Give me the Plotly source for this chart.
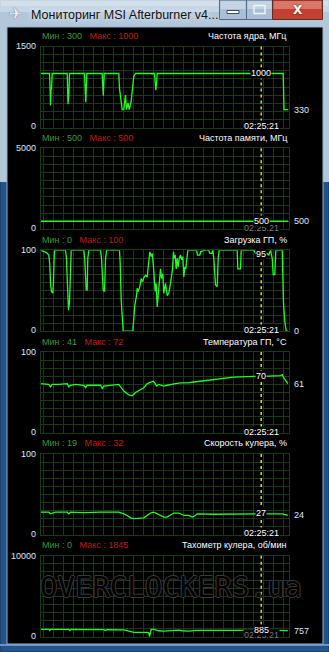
import plotly.graph_objects as go

W, H = 329, 652

# ---------------- data ----------------
titles = ["Частота ядра, МГц", "Частота памяти, МГц", "Загрузка ГП, %",
          "Температура ГП, °C", "Скорость кулера, %", "Тахометр кулера, об/мин"]
y_max = [1500, 5000, 100, 100, 100, 10000]
min_vals = [300, 500, 0, 41, 19, 0]
max_vals = [1000, 500, 100, 72, 32, 1845]
cursor_vals = [1000, 500, 95, 70, 27, 885]
last_vals = [330, 500, 0, 61, 24, 757]
cursor_time = "02:25:21"
cursor_t = 220.7
window_title = "Мониторинг MSI Afterburner v4..."
watermark = "OVERCLOCKERS.ua"

core_t = [0, 9, 9.5, 10, 10.5, 11, 11.7, 26.7, 27, 27.5, 28.3, 29, 44, 44.7, 45.3, 46.3,
          61.7, 62.2, 62.8, 63.7, 78.3, 79, 80.5, 81.7, 83.3, 84.5, 85, 86, 87.5, 88.7, 90.5,
          92, 93.3, 95, 111, 111.5, 112, 114, 114.7, 115.3, 116, 116.7, 242.7, 243, 243.5, 248]
core_v = [1000, 1000, 780, 410, 700, 720, 1000, 1000, 800, 430, 600, 1000, 1000, 760, 470, 1000,
          1000, 790, 590, 1000, 1000, 720, 420, 330, 330, 560, 600, 330, 450, 330, 470,
          720, 950, 1000, 1000, 980, 1000, 1000, 860, 690, 820, 1000, 1000, 620, 330, 330]

mem_t = [0, 248]
mem_v = [500, 500]

load_t = [0, 1.7, 6, 8.3, 9.3, 10, 11, 12.3, 13, 13.7, 14.3, 25, 26, 26.7, 28, 29, 29.7, 30.7,
          43.3, 44.3, 45.7, 46.7, 47.3, 48.3, 60, 61, 62.7, 64, 65, 66, 79, 79.7, 80.7, 81.7,
          82.7, 92.3, 93.3, 94.3, 96, 96.7, 97.7, 99.3, 100.7, 102, 103.3, 105, 106.7, 108.3,
          109.3, 110.7, 111.7, 112.7, 113.7, 114.7, 115.7, 116.7, 117.7, 119, 120, 121, 122.3,
          123.3, 125, 126.7, 128.3, 130, 131, 132, 133, 133.7, 134.7, 135.7, 136.7, 137.7,
          138.7, 140, 141.3, 142.3, 143.3, 144.3, 145.3, 146.3, 147.3, 156, 157, 159.3, 160.3,
          163.3, 168.3, 169.3, 171.3, 172.3, 173.3, 175, 176.7, 177.7, 178.7, 196.7, 197.3,
          200, 200.7, 213.3, 215, 221.7, 226.7, 228.3, 230, 231.7, 232.7, 234.3, 235.3, 241.7,
          243, 244.3, 245.7, 247.3]
load_v = [100, 99, 97, 94, 82, 59, 49, 47, 61, 94, 100, 100, 90, 65, 26, 36, 73, 100,
          100, 88, 51, 51, 90, 100, 100, 90, 51, 49, 88, 100, 100, 84, 38, 12,
          0, 0, 20, 32, 44, 53, 49, 55, 65, 61, 66, 69, 67, 88,
          98, 92, 96, 84, 71, 49, 59, 30, 44, 69, 77, 65, 71,
          47, 59, 44, 47, 59, 67, 77, 98, 90, 94, 77, 90, 79,
          90, 94, 88, 92, 67, 79, 77, 86, 100, 100, 94, 94, 98,
          100, 100, 96, 96, 100, 90, 57, 55, 90, 100, 100, 77,
          77, 100, 100, 96, 95, 96, 94, 100, 90, 70, 70, 100, 100,
          34, 12, 0, 0]

temp_t = [0, 8.3, 10, 11.7, 18.3, 26.7, 28.3, 30, 35, 43.3, 45, 46.7, 60, 61.7, 63.3, 70,
          78.3, 80.7, 83.3, 88.3, 91.7, 95, 100, 103.3, 106.7, 110, 112.7, 114.3, 116, 118.3,
          123.3, 126.7, 130, 135, 140, 146.7, 153.3, 160, 168.3, 176.7, 186.7, 193.3, 213.3,
          223.3, 240, 241.7, 243.3, 247.3]
temp_v = [61, 60, 57, 60, 60, 61, 57, 59, 60, 59, 56, 59, 59, 55, 58, 59,
          60, 56, 52, 47, 46, 50, 54, 56, 61, 63, 64, 62, 58, 60,
          58, 59, 60, 61, 62, 62, 63, 64, 66, 67, 68, 69, 70,
          70, 71, 72, 68, 61]

fan_t = [0, 8.3, 10, 11.7, 15, 26.7, 28.3, 30, 43.3, 60, 78.3, 83.3, 86.7, 90, 93.3, 103.3,
         106.7, 110, 113.3, 116.7, 120, 123.3, 126.7, 130, 133.3, 138.3, 143.3, 148.3, 151.7,
         155, 156.7, 173.3, 193.3, 213.3, 226.7, 241.7, 245, 247.3]
fan_v = [28, 28, 26, 27, 28, 28, 26, 28, 27.5, 28, 28, 26, 24, 21, 20, 21,
         24, 27, 28, 26, 24, 22, 22, 25, 27, 27, 24, 24, 22,
         24, 26, 25.5, 26, 26, 26, 26, 25, 24]

rpm_t = [0, 8.3, 9.3, 10, 28.3, 29.3, 30.7, 63.3, 65, 66.7, 83.3, 86.7, 90, 93.3, 106.7,
         108.3, 109, 109.7, 110.7, 113.3, 118.3, 123.3, 130, 133.3, 138.3, 141.7, 148.3,
         156.7, 171.7, 176.7, 180, 193.3, 213.3, 241.7, 245, 247.3]
rpm_v = [905, 905, 760, 905, 905, 760, 905, 880, 760, 880, 860, 740, 580, 540, 540,
         500, 0, 620, 905, 905, 740, 700, 780, 820, 820, 740, 700,
         780, 780, 700, 780, 780, 820, 820, 780, 757]

series_t = [core_t, mem_t, load_t, temp_t, fan_t, rpm_t]
series_v = [core_v, mem_v, load_v, temp_v, fan_v, rpm_v]

# ---------------- styling / geometry ----------------
FONT = "Liberation Sans"
GRID = "#173a17"
LINE = "#1eff1e"
MIN_C = "#3a9a3a"
MAX_C = "#c41818"
LBL_C = "#dce9ff"
X_RANGE = [0, 248]
PLOT_L, PLOT_R = 40.5, 288.5
TOP0, STEP, PH = 46.5, 101.85, 81


def px(x):
    return x / W


def py(y):
    return 1 - y / H


fig = go.Figure()
annotations = []
shapes = []

for i in range(6):
    s = "" if i == 0 else str(i + 1)
    top = TOP0 + STEP * i
    bot = top + PH
    fig.add_trace(go.Scatter(x=series_t[i], y=series_v[i], mode="lines",
                             line=dict(color=LINE, width=1.3), xaxis="x" + s, yaxis="y" + s,
                             hoverinfo="skip", showlegend=False))
    fig.layout["xaxis" + s] = dict(domain=[px(PLOT_L), px(PLOT_R)], range=X_RANGE,
                                   anchor="y" + s, showgrid=True, gridcolor=GRID, gridwidth=1,
                                   tick0=2.8, dtick=10, showticklabels=False, ticks="",
                                   zeroline=False, showline=True, mirror=True, linecolor=GRID,
                                   linewidth=1, fixedrange=True)
    fig.layout["yaxis" + s] = dict(domain=[py(bot), py(top)], range=[0, y_max[i]],
                                   anchor="x" + s, showgrid=True, gridcolor=GRID, gridwidth=1,
                                   dtick=y_max[i] / 10, showticklabels=False, ticks="",
                                   zeroline=False, showline=True, mirror=True, linecolor=GRID,
                                   linewidth=1, fixedrange=True)
    # cursor line
    shapes.append(dict(type="line", xref="x" + s, yref="y" + s + " domain", x0=cursor_t,
                       x1=cursor_t, y0=0, y1=1, layer="above",
                       line=dict(color="#ffff00", width=1.3, dash="3px,3px")))
    small = dict(family=FONT, size=9)
    # header
    annotations.append(dict(xref="paper", yref="y" + s, x=px(40), y=y_max[i], yshift=10.5,
                            xanchor="left", yanchor="middle", showarrow=False,
                            text=f"<span style='color:{MIN_C}'>Мин : {min_vals[i]}</span>"
                                 f"\u00a0\u00a0\u00a0<span style='color:{MAX_C}'>Макс : {max_vals[i]}</span>",
                            font=small))
    annotations.append(dict(xref="paper", yref="y" + s, x=px(288.5), y=y_max[i], yshift=10.5,
                            xanchor="right", yanchor="middle", showarrow=False,
                            text=titles[i], font=dict(family=FONT, size=9, color="#ffffff")))
    # y labels
    annotations.append(dict(xref="paper", yref="y" + s, x=px(37.5), y=y_max[i],
                            xanchor="right", yanchor="middle", showarrow=False,
                            text=str(y_max[i]), font=dict(family=FONT, size=9, color=LBL_C)))
    annotations.append(dict(xref="paper", yref="y" + s, x=px(37.5), y=0, yshift=1,
                            xanchor="right", yanchor="middle", showarrow=False,
                            text="0", font=dict(family=FONT, size=9, color=LBL_C)))
    # time label (dimmed and partly hidden where the value label sits on it)
    tcol = "#7a7a7a" if i in (1, 5) else "#ffffff"
    annotations.append(dict(xref="x" + s, yref="y" + s, x=cursor_t, y=0, yshift=1.5,
                            xanchor="center", yanchor="middle", showarrow=False,
                            text=cursor_time, bgcolor="#000000", borderpad=0,
                            font=dict(family=FONT, size=9, color=tcol)))
    # cursor value label
    annotations.append(dict(xref="x" + s, yref="y" + s, x=cursor_t, y=cursor_vals[i],
                            xanchor="center", yanchor="middle", showarrow=False,
                            text=str(cursor_vals[i]), bgcolor="#000000", borderpad=0,
                            font=dict(family=FONT, size=9, color="#ffffff")))
    # last value label
    annotations.append(dict(xref="paper", yref="y" + s, x=px(291.5), y=last_vals[i],
                            xanchor="left", yanchor="middle", showarrow=False,
                            text=str(last_vals[i]),
                            font=dict(family=FONT, size=9, color=LBL_C)))

# watermark in last panel
annotations.append(dict(xref="paper", yref="paper", x=px(171), y=py(587), xanchor="center",
                        yanchor="middle", showarrow=False, text=watermark,
                        font=dict(family="DejaVu Sans Mono", size=29, color="#000000",
                                  shadow="1px 0 0 #3a3a3a, -1px 0 0 #3a3a3a, 0 1px 0 #3a3a3a, 0 -1px 0 #3a3a3a")))

# ---------------- window chrome ----------------
def rect(x0, y0, x1, y1, fill, line=None, lw=0, layer="below"):
    d = dict(type="rect", xref="paper", yref="paper", x0=px(x0), x1=px(x1), y0=py(y1),
             y1=py(y0), fillcolor=fill, layer=layer, line=dict(width=lw, color=line or fill))
    shapes.append(d)

rect(0, 0, 329, 652, "#22538b", "#1a3556", 1)
rect(0, 0, 329, 182, "#b3c7db")
rect(0, 0, 329, 12, "#c6d6e6")
rect(1, 1, 328, 6, "#d3e0ec")
rect(0, 644, 329, 646, "#6b93c0")
rect(7, 27, 323, 644, "#000000", "#8fb0d4", 1)
# buttons
rect(219.5, 0, 246.5, 19.5, "#aabfd4", "#4f6a88", 1)
rect(220.5, 1, 245.5, 9, "#c4d4e4")
rect(227, 10.5, 239, 13.5, "#ffffff", "#3a4a5c", 1)
rect(246.5, 0, 272.5, 19.5, "#aabfd4", "#4f6a88", 1)
rect(247.5, 1, 271.5, 9, "#c4d4e4")
rect(254, 5.5, 265, 13.5, "rgba(0,0,0,0)", "#eef3f8", 1.5)
rect(272.5, 0, 322.5, 19.5, "#c4402f", "#5e2a24", 1)
rect(273.5, 1, 321.5, 9, "#d9766a")

annotations.append(dict(xref="paper", yref="paper", x=px(297.5), y=py(10), xanchor="center",
                        yanchor="middle", showarrow=False, text="<b>X</b>",
                        font=dict(family="DejaVu Sans", size=12, color="#ffffff",
                                  shadow="0 0 2px #5a1a14")))
annotations.append(dict(xref="paper", yref="paper", x=px(15.5), y=py(14), xanchor="center",
                        yanchor="middle", showarrow=False, text="✈",
                        font=dict(family="DejaVu Sans", size=16, color="#e9eef4",
                                  shadow="0 0 1px #404850")))
annotations.append(dict(xref="paper", yref="paper", x=px(29), y=py(14.5), xanchor="left",
                        yanchor="middle", showarrow=False, text=window_title,
                        font=dict(family=FONT, size=12.5, color="#111111",
                                  shadow="0 0 5px #ffffff")))

fig.update_layout(width=W, height=H, margin=dict(l=0, r=0, t=0, b=0),
                  paper_bgcolor="#ffffff", plot_bgcolor="#000000",
                  shapes=shapes, annotations=annotations, showlegend=False,
                  hovermode=False)

fig.write_html("out.html", config={"displayModeBar": False})
